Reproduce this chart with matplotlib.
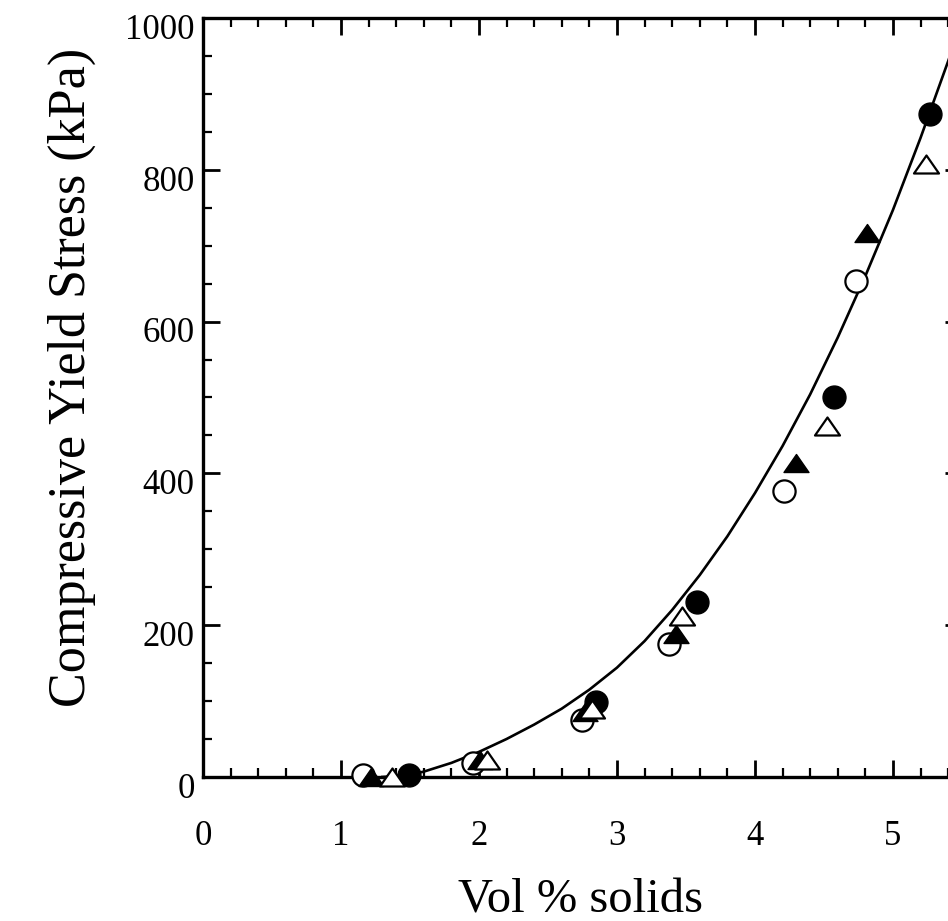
import matplotlib
matplotlib.use("Agg")
import matplotlib.pyplot as plt
from matplotlib.path import Path
from matplotlib.transforms import ScaledTranslation
from matplotlib.ticker import MultipleLocator

# data (vol % solids, compressive yield stress in kPa)
open_circle_x = [1.16, 1.96, 2.75, 3.38, 4.21, 4.73]
open_circle_y = [3, 18, 75, 175, 377, 653]

filled_circle_x = [1.49, 2.85, 3.58, 4.57, 5.27]
filled_circle_y = [3, 99, 231, 501, 874]

filled_tri_x = [1.22, 2.01, 2.77, 3.43, 4.30, 4.81]
filled_tri_y = [0, 22, 86, 189, 413, 717]

open_tri_x = [1.37, 2.06, 2.82, 3.47, 4.52, 5.24]
open_tri_y = [0, 22, 90, 212, 463, 808]

# fitted curve, read along its length
fit_x = [1.3, 1.4, 1.5, 1.6, 1.8, 2.0, 2.2, 2.4, 2.6, 2.8, 3.0, 3.2,
         3.4, 3.6, 3.8, 4.0, 4.2, 4.4, 4.6, 4.8, 5.0, 5.2, 5.4, 5.5]
fit_y = [0, 1, 3, 7, 18.5, 33, 50, 69, 90, 115, 144, 179,
         220, 266, 317, 374, 436, 504, 579, 660, 747, 842, 943, 996]

x_ticks = [0, 1, 2, 3, 4, 5]
y_ticks = [0, 200, 400, 600, 800, 1000]

plt.rcParams["font.family"] = ["Liberation Serif", "DejaVu Serif"]

fig = plt.figure(figsize=(9.48, 9.21), dpi=100)
ax = fig.add_axes([0.2141, 0.1564, 0.8006, 0.8241])

ax.plot(fit_x, fit_y, color="black", linewidth=1.9, zorder=2,
        solid_joinstyle="round")

tri = Path([(0, 0.72), (-1, -0.72), (1, -0.72), (0, 0.72)], closed=True)
common = dict(linestyle="none", markeredgecolor="black", clip_on=False, zorder=3)
ax.plot(open_circle_x, open_circle_y, marker="o", markersize=16,
        markerfacecolor="white", markeredgewidth=1.6, **common)
ax.plot(filled_circle_x, filled_circle_y, marker="o", markersize=16.5,
        markerfacecolor="black", markeredgewidth=1.0, **common)
ax.plot(filled_tri_x, filled_tri_y, marker=tri, markersize=18,
        markerfacecolor="black", markeredgewidth=1.0, **common)
ax.plot(open_tri_x, open_tri_y, marker=tri, markersize=18,
        markerfacecolor="white", markeredgewidth=1.6, **common)

ax.set_xlim(0, 5.5)
ax.set_ylim(0, 1000)
ax.set_xticks(x_ticks)
ax.set_yticks(y_ticks)
ax.xaxis.set_minor_locator(MultipleLocator(0.2))
ax.yaxis.set_minor_locator(MultipleLocator(50))

for side in ax.spines.values():
    side.set_linewidth(2.4)

ax.tick_params(which="both", direction="in", top=True, right=True,
               colors="black", labelsize=25)
ax.tick_params(which="major", length=12, width=2.0)
ax.tick_params(which="minor", length=6.5, width=1.6)
ax.tick_params(axis="x", which="major", pad=31)
ax.tick_params(axis="y", which="major", pad=6)

# y tick labels sit a little below their ticks in the original
shift = ScaledTranslation(0, -6 / 72, fig.dpi_scale_trans)
for lbl in ax.get_yticklabels():
    lbl.set_transform(lbl.get_transform() + shift)

ax.set_xlabel("Vol % solids", fontsize=35, va="baseline")
ax.xaxis.set_label_coords(0.497, -0.179)
ax.set_ylabel("Compressive Yield Stress (kPa)", fontsize=37.5, va="center")
ax.yaxis.set_label_coords(-0.1726, 0.526)

fig.savefig("out.png", dpi=100)
plt.close(fig)
